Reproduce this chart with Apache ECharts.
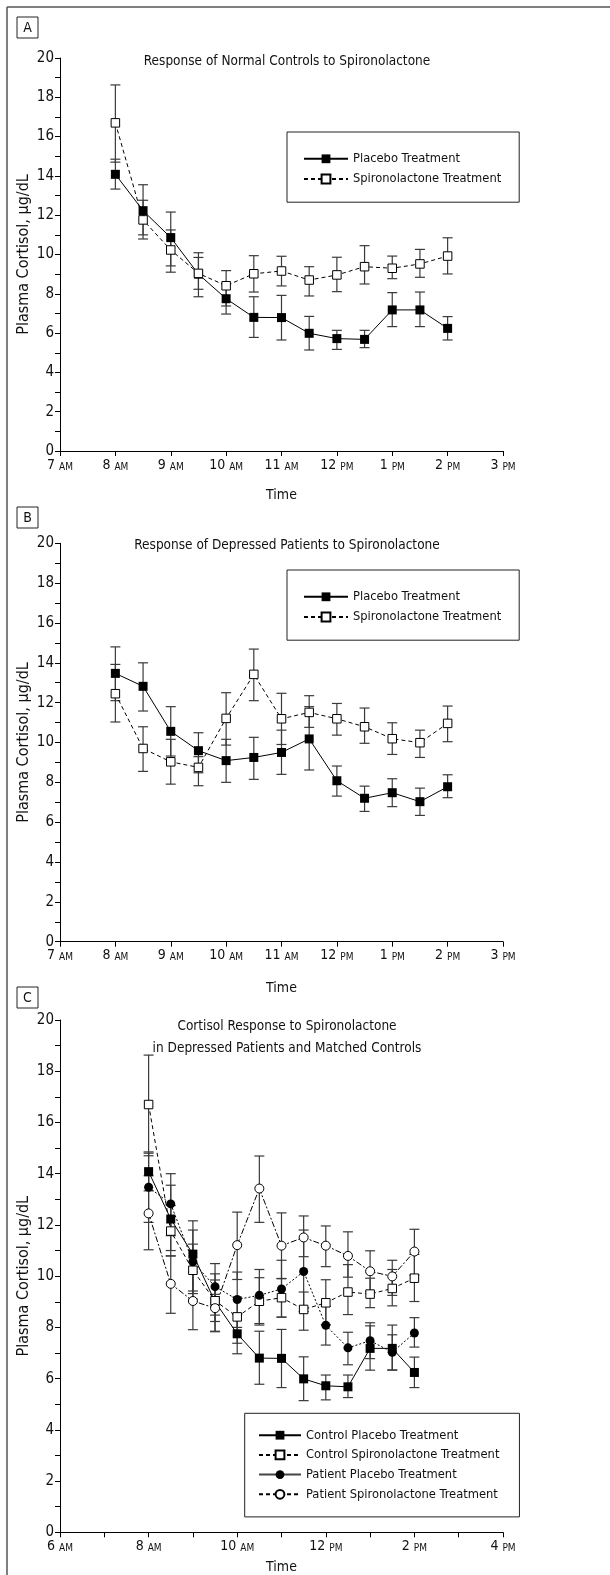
<!DOCTYPE html>
<html>
<head>
<meta charset="utf-8">
<title>Plasma cortisol response to spironolactone</title>
<script src="https://cdn.jsdelivr.net/npm/echarts@6/dist/echarts.min.js"></script>
<style>
html, body { margin: 0; padding: 0; background: #fff; }
#main { width: 610px; height: 1575px; }
</style>
</head>
<body>
<div id="main"></div>
<script>
// sampling times (decimal hours of the day)
var times = [8, 8.5, 9, 9.5, 10, 10.5, 11, 11.5, 12, 12.5, 13, 13.5, 14];

// tick labels of the time axes
var hourLabelsAB = ['7 AM', '8 AM', '9 AM', '10 AM', '11 AM', '12 PM', '1 PM', '2 PM', '3 PM'];
var hourLabelsC = ['6 AM', '8 AM', '10 AM', '12 PM', '2 PM', '4 PM'];

// normal controls, mean and error bar ends (µg/dL)
var ctrlPlacebo   = [14.08, 12.23, 10.86, 9.00, 7.75, 6.80, 6.79, 5.99, 5.72, 5.68, 7.18, 7.18, 6.24];
var ctrlPlaceboLo = [13.33, 11.00, 9.42, 7.85, 6.97, 5.78, 5.65, 5.14, 5.17, 5.26, 6.33, 6.33, 5.65];
var ctrlPlaceboHi = [14.85, 13.55, 12.16, 10.09, 8.50, 7.85, 7.92, 6.85, 6.14, 6.14, 8.06, 8.09, 6.84];
var ctrlSpiro     = [16.70, 11.76, 10.23, 9.04, 8.41, 9.02, 9.16, 8.70, 8.96, 9.38, 9.30, 9.52, 9.92];
var ctrlSpiroLo   = [14.70, 10.79, 9.10, 8.23, 7.38, 8.09, 8.40, 7.89, 8.11, 8.50, 8.77, 8.84, 9.01];
var ctrlSpiroHi   = [18.63, 12.76, 11.25, 9.85, 9.18, 9.94, 9.91, 9.38, 9.86, 10.45, 9.92, 10.26, 10.85];

// depressed patients
var patPlacebo    = [13.47, 12.82, 10.56, 9.59, 9.09, 9.25, 9.50, 10.18, 8.08, 7.20, 7.48, 7.03, 7.78];
var patPlaceboLo  = [12.10, 11.58, 9.32, 8.48, 8.00, 8.15, 8.40, 8.62, 7.31, 6.54, 6.78, 6.34, 7.23];
var patPlaceboHi  = [14.80, 14.00, 11.80, 10.49, 10.16, 10.26, 10.62, 11.80, 8.82, 7.81, 8.18, 7.71, 8.38];
var patSpiro      = [12.45, 9.70, 9.03, 8.75, 11.21, 13.42, 11.19, 11.51, 11.19, 10.79, 10.19, 9.99, 10.96];
var patSpiroLo    = [11.03, 8.55, 7.91, 7.83, 9.87, 12.10, 9.90, 10.76, 10.37, 9.96, 9.40, 9.25, 10.04];
var patSpiroHi    = [13.92, 10.79, 10.16, 9.29, 12.50, 14.69, 12.47, 12.35, 11.96, 11.73, 10.99, 10.62, 11.83];

var FONT = "'DejaVu Sans Condensed', 'Liberation Sans Narrow', sans-serif";
var INK = '#111';

function hourRich(label) {
    var p = label.split(' ');
    return '{n|' + p[0] + ' }{s|' + p[1] + '}';
}

function renderErrorBar(params, api) {
    var x = api.value(0);
    var lo = api.coord([x, api.value(1)]);
    var hi = api.coord([x, api.value(2)]);
    var w = 5;
    var st = { stroke: '#3a3a3a', lineWidth: 1.2 };
    return {
        type: 'group',
        children: [
            { type: 'line', shape: { x1: hi[0], y1: hi[1], x2: lo[0], y2: lo[1] }, style: st },
            { type: 'line', shape: { x1: hi[0] - w, y1: hi[1], x2: hi[0] + w, y2: hi[1] }, style: st },
            { type: 'line', shape: { x1: lo[0] - w, y1: lo[1], x2: lo[0] + w, y2: lo[1] }, style: st }
        ]
    };
}

function errorSeries(lo, hi, ax) {
    return {
        type: 'custom',
        xAxisIndex: ax,
        yAxisIndex: ax,
        z: 1,
        silent: true,
        renderItem: renderErrorBar,
        encode: { x: 0, y: [1, 2] },
        data: times.map(function (t, i) { return [t, lo[i], hi[i]]; })
    };
}

function lineSeries(name, values, ax, symbol, filled, dash, size) {
    return {
        name: name,
        type: 'line',
        xAxisIndex: ax,
        yAxisIndex: ax,
        z: 3,
        symbol: symbol,
        symbolSize: size,
        showSymbol: true,
        lineStyle: { color: '#000', width: 1, type: dash },
        itemStyle: filled
            ? { color: '#000', borderColor: '#000', borderWidth: 0 }
            : { color: '#fff', borderColor: '#000', borderWidth: 1 },
        emphasis: { disabled: true },
        data: times.map(function (t, i) { return [t, values[i]]; })
    };
}

function yAxisFor(ax) {
    return {
        type: 'value',
        gridIndex: ax,
        min: 0,
        max: 20,
        interval: 2,
        name: 'Plasma Cortisol, \u03bcg/dL',
        nameLocation: 'middle',
        nameRotate: 90,
        nameGap: 28,
        nameMoveOverlap: false,
        nameTextStyle: { fontFamily: FONT, fontSize: 16, color: INK },
        axisLine: { show: true, lineStyle: { color: '#000', width: 1 } },
        axisTick: { show: true, length: 5, lineStyle: { color: '#000' } },
        minorTick: { show: true, splitNumber: 2, length: 5, lineStyle: { color: '#000' } },
        splitLine: { show: false },
        minorSplitLine: { show: false },
        axisLabel: { fontFamily: FONT, fontSize: 15, color: INK, margin: 6 }
    };
}

var xRich = {
    n: { fontFamily: FONT, fontSize: 14, color: INK, lineHeight: 15, verticalAlign: 'bottom' },
    s: { fontFamily: FONT, fontSize: 10, color: INK, lineHeight: 12, verticalAlign: 'bottom' }
};

function xAxisFor(ax, min, max, interval, labels, gap) {
    return {
        type: 'value',
        gridIndex: ax,
        min: min,
        max: max,
        interval: interval,
        name: 'Time',
        nameLocation: 'middle',
        nameGap: gap,
        nameMoveOverlap: false,
        nameTextStyle: { fontFamily: FONT, fontSize: 14, color: INK },
        axisLine: { show: true, onZero: false, lineStyle: { color: '#000', width: 1 } },
        axisTick: { show: true, length: 5, lineStyle: { color: '#000' } },
        minorTick: { show: interval > 1, splitNumber: 2, length: 5, lineStyle: { color: '#000' } },
        splitLine: { show: false },
        axisLabel: {
            margin: 6,
            fontFamily: FONT,
            fontSize: 14,
            color: INK,
            formatter: function (v) {
                var lab = labels[Math.round((v - min) / interval)];
                return lab ? hourRich(lab) : '';
            },
            rich: xRich
        }
    };
}

var legendText = { fontFamily: FONT, fontSize: 12.8, color: INK };

function panelTag(letter, x, y) {
    return {
        type: 'group',
        children: [
            { type: 'rect', shape: { x: x, y: y, width: 21, height: 21 }, style: { fill: '#fff', stroke: '#222', lineWidth: 1 } },
            { type: 'text', x: x + 10.5, y: y + 11, style: { text: letter, fontFamily: FONT, fontSize: 14, fill: INK, align: 'center', verticalAlign: 'middle' } }
        ]
    };
}

var titleStyle = { fontFamily: FONT, fontSize: 13.5, fontWeight: 'normal', color: INK, lineHeight: 21.7 };

var chart = echarts.init(document.getElementById('main'), null, { renderer: 'canvas' });
var option = {
    animation: false,
    backgroundColor: '#fff',
    title: [
        { text: 'Response of Normal Controls to Spironolactone', left: 287, top: 51, textAlign: 'center', padding: 0, textStyle: titleStyle },
        { text: 'Response of Depressed Patients to Spironolactone', left: 287, top: 534.5, textAlign: 'center', padding: 0, textStyle: titleStyle },
        { text: 'Cortisol Response to Spironolactone\nin Depressed Patients and Matched Controls', left: 287, top: 1016, textAlign: 'center', padding: 0, textStyle: titleStyle }
    ],
    grid: [
        { left: 60, top: 58, width: 443, height: 393, containLabel: false, outerBoundsMode: 'none' },
        { left: 60, top: 543.3, width: 443, height: 398.4, containLabel: false, outerBoundsMode: 'none' },
        { left: 60, top: 1020, width: 443, height: 512.3, containLabel: false, outerBoundsMode: 'none' }
    ],
    xAxis: [
        xAxisFor(0, 7, 15, 1, hourLabelsAB, 37),
        xAxisFor(1, 7, 15, 1, hourLabelsAB, 40),
        xAxisFor(2, 6, 16, 2, hourLabelsC, 28)
    ],
    yAxis: [yAxisFor(0), yAxisFor(1), yAxisFor(2)],
    legend: [
        {
            orient: 'vertical', left: 287, top: 132, padding: [20.3, 18, 16.7, 16],
            itemWidth: 44, itemHeight: 11, itemGap: 7.2,
            borderColor: '#222', borderWidth: 1, selectedMode: false,
            textStyle: legendText,
            data: ['Placebo Treatment', 'Spironolactone Treatment']
        },
        {
            orient: 'vertical', left: 287, top: 570, padding: [20.3, 18, 16.7, 16],
            itemWidth: 44, itemHeight: 11, itemGap: 7.2,
            borderColor: '#222', borderWidth: 1, selectedMode: false,
            textStyle: legendText,
            data: ['Placebo Treatment', 'Spironolactone Treatment']
        },
        {
            orient: 'vertical', left: 244.7, top: 1413.3, padding: [15.4, 20, 16.1, 13.3],
            itemWidth: 42, itemHeight: 11, itemGap: 6.7,
            borderColor: '#222', borderWidth: 1, selectedMode: false,
            textStyle: legendText,
            data: [
                'Control Placebo Treatment',
                'Control Spironolactone Treatment',
                { name: 'Patient Placebo Treatment', lineStyle: { type: 'solid', color: '#444' } },
                { name: 'Patient Spironolactone Treatment', lineStyle: { type: [4, 3] } }
            ]
        }
    ],
    graphic: [
        { type: 'line', shape: { x1: 7, y1: 7, x2: 610, y2: 7 }, style: { stroke: '#555', lineWidth: 1.5 } },
        { type: 'line', shape: { x1: 7, y1: 7, x2: 7, y2: 1575 }, style: { stroke: '#555', lineWidth: 1.5 } },
        panelTag('A', 17, 17),
        panelTag('B', 17, 507),
        panelTag('C', 17, 987)
    ],
    series: [
        // panel A
        errorSeries(ctrlPlaceboLo, ctrlPlaceboHi, 0),
        errorSeries(ctrlSpiroLo, ctrlSpiroHi, 0),
        lineSeries('Placebo Treatment', ctrlPlacebo, 0, 'rect', true, 'solid', 9),
        lineSeries('Spironolactone Treatment', ctrlSpiro, 0, 'rect', false, [4, 3], 8.5),
        // panel B
        errorSeries(patPlaceboLo, patPlaceboHi, 1),
        errorSeries(patSpiroLo, patSpiroHi, 1),
        lineSeries('Placebo Treatment', patPlacebo, 1, 'rect', true, 'solid', 9),
        lineSeries('Spironolactone Treatment', patSpiro, 1, 'rect', false, [4, 3], 8.5),
        // panel C
        errorSeries(ctrlPlaceboLo, ctrlPlaceboHi, 2),
        errorSeries(ctrlSpiroLo, ctrlSpiroHi, 2),
        errorSeries(patPlaceboLo, patPlaceboHi, 2),
        errorSeries(patSpiroLo, patSpiroHi, 2),
        lineSeries('Control Placebo Treatment', ctrlPlacebo, 2, 'rect', true, 'solid', 9),
        lineSeries('Control Spironolactone Treatment', ctrlSpiro, 2, 'rect', false, [4, 3], 8.5),
        lineSeries('Patient Placebo Treatment', patPlacebo, 2, 'circle', true, [2, 2], 9),
        lineSeries('Patient Spironolactone Treatment', patSpiro, 2, 'circle', false, [6, 2, 2, 2], 9)
    ]
};
chart.setOption(option);
</script>
</body>
</html>
